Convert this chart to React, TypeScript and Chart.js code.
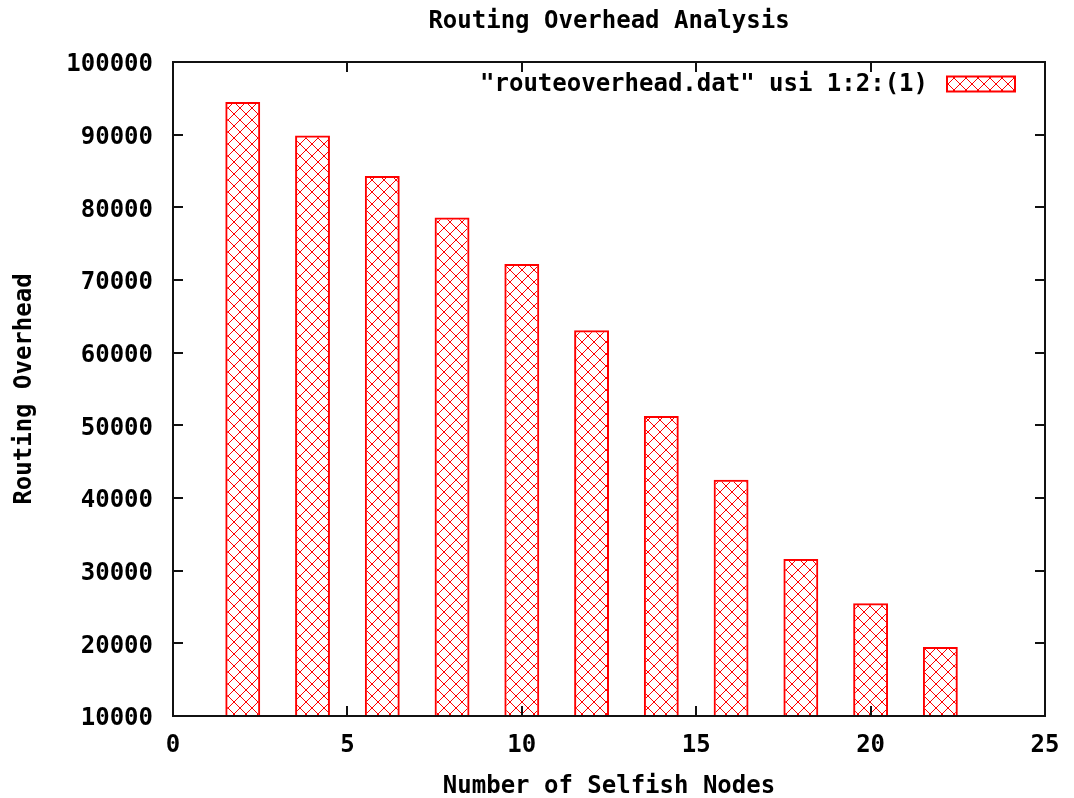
import React, { useEffect, useRef } from "react";
import { Chart, registerables } from "chart.js";

Chart.register(...registerables);

const chartTitle = "Routing Overhead Analysis";
const xAxisTitle = "Number of Selfish Nodes";
const yAxisTitle = "Routing Overhead";
const seriesLabel = "\"routeoverhead.dat\" usi 1:2:(1)";
const selfishNodes = [2, 4, 6, 8, 10, 12, 14, 16, 18, 20, 22];
const routingOverhead = [94500, 89900, 84300, 78600, 72200, 63100, 51300, 42500, 31600, 25500, 19500];
const xTicks = [0, 5, 10, 15, 20, 25];
const yTicks = [10000, 20000, 30000, 40000, 50000, 60000, 70000, 80000, 90000, 100000];

const FONT_FAMILY = "'DejaVu Sans Mono', 'Liberation Mono', monospace";
const RED = "#ff0000";

function makePattern(): CanvasPattern | string {
  const size = 12;
  const c = document.createElement("canvas");
  c.width = size;
  c.height = size;
  const g = c.getContext("2d");
  if (!g) return RED;
  g.strokeStyle = RED;
  g.lineWidth = 1;
  g.beginPath();
  g.moveTo(-1, -1);
  g.lineTo(size + 1, size + 1);
  g.moveTo(size + 1, -1);
  g.lineTo(-1, size + 1);
  g.stroke();
  const p = g.createPattern(c, "repeat");
  return p || RED;
}

export default function App() {
  const ref = useRef<HTMLCanvasElement | null>(null);

  useEffect(() => {
    const canvas = ref.current;
    if (!canvas) return;
    const pattern = makePattern();

    const framePlugin = {
      id: "gnuFrame",
      afterDatasetsDraw(chart: any) {
        const { ctx, chartArea } = chart;
        const xs = chart.scales.x;
        const ys = chart.scales.y;
        const tl = 10;
        ctx.save();
        ctx.strokeStyle = "#111";
        ctx.lineWidth = 2;
        ctx.strokeRect(chartArea.left, chartArea.top, chartArea.right - chartArea.left, chartArea.bottom - chartArea.top);
        ctx.beginPath();
        xTicks.forEach((v) => {
          const px = Math.round(xs.getPixelForValue(v));
          ctx.moveTo(px, chartArea.bottom);
          ctx.lineTo(px, chartArea.bottom - tl);
          ctx.moveTo(px, chartArea.top);
          ctx.lineTo(px, chartArea.top + tl);
        });
        yTicks.forEach((v) => {
          const py = Math.round(ys.getPixelForValue(v));
          ctx.moveTo(chartArea.left, py);
          ctx.lineTo(chartArea.left + tl, py);
          ctx.moveTo(chartArea.right, py);
          ctx.lineTo(chartArea.right - tl, py);
        });
        ctx.stroke();

        // legend (gnuplot style: text then sample, inside top-right)
        const ds = chart.data.datasets[0];
        const sampleRight = chartArea.right - 30;
        const sampleW = 68;
        const sampleH = 15;
        const sampleLeft = sampleRight - sampleW;
        const cy = chartArea.top + 22;
        ctx.font = `bold 24px ${FONT_FAMILY}`;
        ctx.fillStyle = "#000";
        ctx.textAlign = "right";
        ctx.textBaseline = "middle";
        ctx.fillText(ds.label, sampleLeft - 19, cy + 1);
        ctx.fillStyle = pattern as any;
        ctx.fillRect(sampleLeft, cy - sampleH / 2, sampleW, sampleH);
        ctx.strokeStyle = RED;
        ctx.lineWidth = 2;
        ctx.strokeRect(sampleLeft, cy - sampleH / 2, sampleW, sampleH);
        ctx.restore();
      },
    };

    const chart = new Chart(canvas, {
      type: "bar",
      data: {
        datasets: [
          {
            label: seriesLabel,
            data: selfishNodes.map((x, i) => ({ x, y: routingOverhead[i] })),
            backgroundColor: pattern as any,
            borderColor: RED,
            borderWidth: 2,
            borderSkipped: "start",
            categoryPercentage: 1.0,
            barPercentage: 0.5,
          },
        ],
      },
      options: {
        responsive: false,
        animation: false,
        devicePixelRatio: 1,
        layout: { padding: { left: 0, right: 29, top: 0, bottom: 0 } },
        plugins: {
          legend: { display: false },
          tooltip: { enabled: false },
          title: {
            display: true,
            text: chartTitle,
            fullSize: false,
            color: "#000",
            font: { family: FONT_FAMILY, size: 24, weight: "bold", lineHeight: 1.2 },
            padding: { top: 7, bottom: 62 - 7 - 28.8 },
          },
        },
        scales: {
          x: {
            type: "linear",
            min: 0,
            max: 25,
            offset: false,
            grid: { display: false, drawTicks: false, offset: false },
            border: { display: false },
            afterBuildTicks: (scale: any) => {
              scale.ticks = xTicks.map((v) => ({ value: v }));
            },
            afterFit: (scale: any) => {
              scale.height = 82;
            },
            ticks: {
              color: "#000",
              padding: 12,
              font: { family: FONT_FAMILY, size: 24, weight: "bold", lineHeight: 1.5 },
            },
            title: {
              display: true,
              text: xAxisTitle,
              color: "#000",
              font: { family: FONT_FAMILY, size: 24, weight: "bold", lineHeight: 1 },
              padding: { top: 0, bottom: -1 },
            },
          },
          y: {
            type: "linear",
            min: 10000,
            max: 100000,
            grid: { display: false, drawTicks: false },
            border: { display: false },
            afterBuildTicks: (scale: any) => {
              scale.ticks = yTicks.map((v) => ({ value: v }));
            },
            afterFit: (scale: any) => {
              scale.width = 173;
            },
            ticks: {
              color: "#000",
              padding: 20,
              labelOffset: 3,
              font: { family: FONT_FAMILY, size: 24, weight: "bold", lineHeight: 1.2 },
              callback: (v: any) => String(v),
            },
            title: {
              display: true,
              text: yAxisTitle,
              color: "#000",
              font: { family: FONT_FAMILY, size: 24, weight: "bold", lineHeight: 1.2 },
              padding: { top: 10, bottom: 0 },
            },
          },
        },
      },
      plugins: [framePlugin],
    });

    return () => chart.destroy();
  }, []);

  return (
    <canvas
      ref={ref}
      width={1074}
      height={798}
      style={{ position: "absolute", left: 0, top: 0, width: 1074, height: 798, background: "#fff" }}
    />
  );
}
